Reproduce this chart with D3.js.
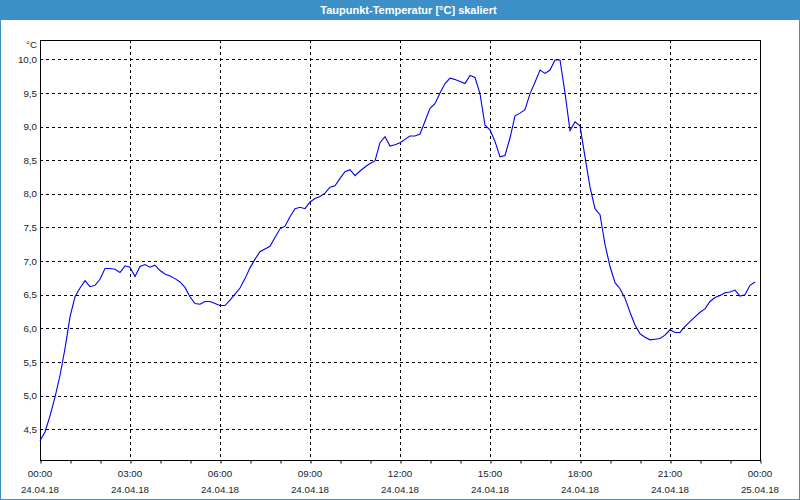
<!DOCTYPE html>
<html><head><meta charset="utf-8">
<script src="https://cdn.jsdelivr.net/npm/d3@7"></script>
<style>html,body{margin:0;padding:0;background:#fff;}svg{display:block;}</style>
</head><body>
<svg id="c" width="800" height="500"></svg>
<script>
const title = "Taupunkt-Temperatur [°C] skaliert";
const unit = "°C";
const yTicks = [4.5,5.0,5.5,6.0,6.5,7.0,7.5,8.0,8.5,9.0,9.5,10.0];
const xTickHours = [0,3,6,9,12,15,18,21,24];
const xTickDates = ["24.04.18","24.04.18","24.04.18","24.04.18","24.04.18","24.04.18","24.04.18","24.04.18","25.04.18"];
// minutes since 24.04.18 00:00, sampled every 10 minutes
const minutes = d3.range(0, 1440, 10);
const values = [
4.33,4.46,4.70,4.98,5.30,5.70,6.17,6.47,6.60,6.71,
6.62,6.64,6.73,6.89,6.89,6.88,6.83,6.93,6.91,6.77,
6.92,6.95,6.91,6.94,6.86,6.81,6.78,6.74,6.69,6.61,
6.47,6.37,6.36,6.40,6.40,6.37,6.34,6.34,6.42,6.51,
6.60,6.74,6.90,7.03,7.14,7.18,7.22,7.35,7.48,7.52,
7.66,7.78,7.80,7.78,7.88,7.93,7.96,8.01,8.10,8.12,
8.23,8.33,8.36,8.27,8.34,8.40,8.45,8.49,8.76,8.85,
8.71,8.73,8.76,8.81,8.86,8.86,8.89,9.08,9.27,9.34,
9.50,9.64,9.72,9.70,9.67,9.64,9.76,9.73,9.49,9.02,
8.95,8.78,8.55,8.57,8.83,9.16,9.20,9.25,9.49,9.66,
9.84,9.79,9.84,9.99,9.99,9.50,8.94,9.07,9.01,8.55,
8.10,7.78,7.69,7.25,6.92,6.68,6.59,6.45,6.24,6.05,
5.92,5.87,5.83,5.84,5.85,5.90,5.98,5.94,5.94,6.03,
6.10,6.17,6.24,6.29,6.40,6.46,6.49,6.53,6.54,6.57,
6.48,6.50,6.64,6.69
];

const W = 800, H = 500;
const blue = "#3c8fc7";
const m = {left:40, right:40, top:40, bottom:40};
const svg = d3.select("#c");
const fontF = "'Liberation Sans', Arial, sans-serif";
const fs = "9.8px";
const txt = "#1c1c1c";

// frame and title bar
svg.append("rect").attr("x",0.5).attr("y",0.5).attr("width",W-1).attr("height",H-1)
  .attr("fill","#fff").attr("stroke",blue);
svg.append("rect").attr("x",0).attr("y",0).attr("width",W).attr("height",20).attr("fill",blue);
svg.append("text").attr("x",408.5).attr("y",13.5).attr("text-anchor","middle")
  .attr("fill","#fff").attr("font-family",fontF).attr("font-weight","bold")
  .attr("font-size","11px").text(title);

const x = d3.scaleLinear().domain([0, 1440]).range([m.left, W - m.right]);
const y = d3.scaleLinear().domain([4.044, 10.287]).range([H - m.bottom, m.top]);

// grid
const g = svg.append("g");
g.selectAll("line.hg").data(yTicks).join("line")
  .attr("x1", m.left).attr("x2", W - m.right)
  .attr("y1", d => Math.round(y(d)) + 0.5).attr("y2", d => Math.round(y(d)) + 0.5)
  .attr("stroke","#000").attr("stroke-dasharray","3,3");
g.selectAll("line.vg").data(xTickHours.slice(1, -1)).join("line")
  .attr("x1", d => Math.round(x(d*60)) + 0.5).attr("x2", d => Math.round(x(d*60)) + 0.5)
  .attr("y1", m.top).attr("y2", H - m.bottom)
  .attr("stroke","#000").attr("stroke-dasharray","3,3");

// axes
const xAxis = d3.axisBottom(x).tickValues(d3.range(0, 1441, 60)).tickSize(3).tickFormat("");
const gx = svg.append("g").attr("transform", `translate(0.5,${H - m.bottom + 0.5})`).call(xAxis);
gx.select(".domain").remove();
gx.selectAll("line").attr("stroke","#000");

const yAxis = d3.axisLeft(y).tickValues(yTicks).tickSize(0).tickPadding(3)
  .tickFormat(d => d3.format(".1f")(d).replace(".", ","));
const gy = svg.append("g").attr("transform", `translate(${m.left},0)`).call(yAxis);
gy.select(".domain").remove();
gy.selectAll("text").attr("font-family", fontF).attr("font-size",fs).attr("fill",txt);

svg.append("text").attr("x", m.left - 3).attr("y", 48).attr("text-anchor","end")
  .attr("font-family", fontF).attr("font-size",fs).attr("fill",txt).text(unit);

// x labels
const xl = svg.append("g");
xl.selectAll("text.t").data(xTickHours).join("text")
  .attr("x", d => x(d*60)).attr("y", 477).attr("text-anchor","middle")
  .attr("font-family", fontF).attr("font-size",fs).attr("fill",txt)
  .text(d => (d === 24 ? "00" : String(d).padStart(2,"0")) + ":00");
xl.selectAll("text.d").data(xTickHours).join("text")
  .attr("x", d => x(d*60)).attr("y", 493).attr("text-anchor","middle")
  .attr("font-family", fontF).attr("font-size",fs).attr("fill",txt)
  .text((d,i) => xTickDates[i]);

// plot frame
svg.append("rect").attr("x", m.left + 0.5).attr("y", m.top + 0.5)
  .attr("width", W - m.left - m.right).attr("height", H - m.top - m.bottom)
  .attr("fill","none").attr("stroke","#000");

// line
const line = d3.line().x((d,i) => x(minutes[i])).y(d => y(d));
svg.append("path").datum(values).attr("d", line)
  .attr("fill","none").attr("stroke","#0000ee").attr("stroke-width",1.1);
</script>
</body></html>
